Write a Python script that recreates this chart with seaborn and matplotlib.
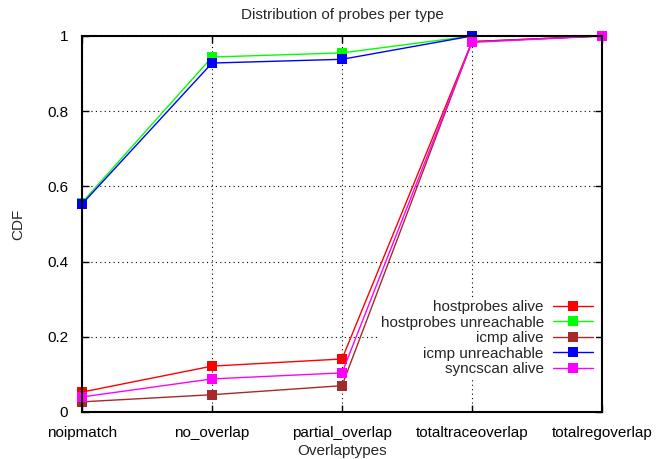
import pandas as pd
import matplotlib
matplotlib.use("Agg")
import matplotlib.pyplot as plt
import seaborn as sns

categories = ["noipmatch", "no_overlap", "partial_overlap", "totaltraceoverlap", "totalregoverlap"]

hostprobes_alive = [0.053, 0.122, 0.141, 0.985, 1.0]
hostprobes_unreachable = [0.557, 0.944, 0.955, 1.0, 1.0]
icmp_alive = [0.027, 0.046, 0.070, 0.985, 1.0]
icmp_unreachable = [0.553, 0.928, 0.938, 1.0, 1.0]
syncscan_alive = [0.040, 0.088, 0.104, 0.983, 1.0]

series = [
    ("hostprobes alive", hostprobes_alive, "#ff0000"),
    ("hostprobes unreachable", hostprobes_unreachable, "#00ff00"),
    ("icmp alive", icmp_alive, "#a52a2a"),
    ("icmp unreachable", icmp_unreachable, "#0000ff"),
    ("syncscan alive", syncscan_alive, "#ff00ff"),
]

sns.set_style("ticks")
plt.rcParams["font.family"] = ["Liberation Sans", "DejaVu Sans"]
fs = 11

fig = plt.figure(figsize=(6.68, 4.59), dpi=100)
ax = fig.add_axes([0.1228, 0.1024, 0.7784, 0.8192])

for name, vals, color in series:
    df = pd.DataFrame({"x": range(len(categories)), "y": vals})
    sns.lineplot(data=df, x="x", y="y", ax=ax, color=color, marker="s",
                 markersize=7, markeredgewidth=0, linewidth=1, label=name,
                 clip_on=False)

ax.set_xlim(0, len(categories) - 1)
ax.set_ylim(0, 1)
ax.set_xticks(range(len(categories)))
ax.set_xticklabels(categories)
ax.set_yticks([0, 0.2, 0.4, 0.6, 0.8, 1])
ax.set_yticklabels(["0", "0.2", "0.4", "0.6", "0.8", "1"])
ax.tick_params(direction="in", length=5, top=True, right=True, labelsize=fs,
               colors="black", width=1)
ax.tick_params(axis="x", pad=10)
ax.tick_params(axis="y", pad=10)
for s in ax.spines.values():
    s.set_linewidth(1.5)
    s.set_color("black")
    s.set_zorder(3)
ax.grid(True, linestyle=(0, (1, 3)), color="black", linewidth=0.8)

ax.set_title("Distribution of probes per type", fontsize=fs, pad=12)
ax.set_xlabel("Overlaptypes", fontsize=fs, labelpad=3)
ax.set_ylabel("CDF", fontsize=fs, labelpad=16)

# opaque key (no border) that hides the grid but sits under the data lines
leg = ax.legend(loc="lower right", bbox_to_anchor=(0.988, 0.087), frameon=True,
                facecolor="white", edgecolor="none", framealpha=1,
                fancybox=False, borderaxespad=0,
                markerfirst=False, fontsize=fs, handlelength=2.6,
                labelspacing=0.1, borderpad=0.2, handletextpad=0.6)
leg.set_zorder(1.5)
for t in leg.get_texts():
    t.set_ha("right")
leg._legend_box.align = "right"

fig.savefig("out.png", dpi=100)
